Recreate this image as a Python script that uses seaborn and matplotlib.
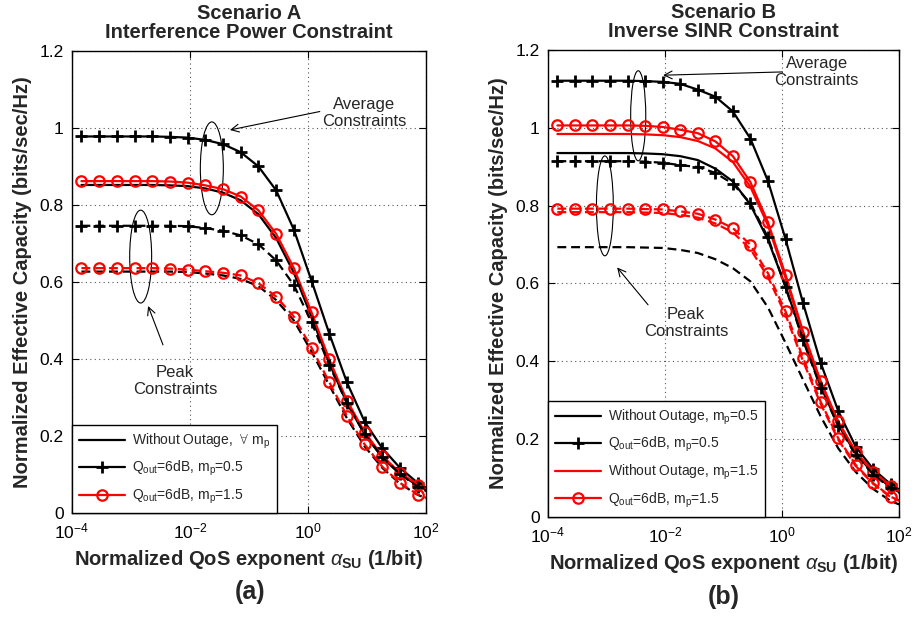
import numpy as np
import pandas as pd
import matplotlib
matplotlib.use('Agg')
import matplotlib.pyplot as plt
import seaborn as sns
from matplotlib.patches import Ellipse
from matplotlib.lines import Line2D

# ---------------- data ----------------
log_alpha = [-3.84, -3.54, -3.24, -2.94, -2.64, -2.34, -2.04, -1.74, -1.44, -1.14,
             -0.84, -0.54, -0.24, 0.06, 0.36, 0.66, 0.96, 1.26, 1.56, 1.86, 2.16]

# Scenario A (interference power constraint)
A_avg_q05 = [0.978, 0.978, 0.978, 0.978, 0.978, 0.977, 0.975, 0.969, 0.958, 0.937,
             0.900, 0.838, 0.736, 0.603, 0.466, 0.339, 0.237, 0.168, 0.117, 0.078, 0.052]
A_avg_q15 = [0.862, 0.862, 0.862, 0.862, 0.862, 0.861, 0.858, 0.851, 0.841, 0.822,
             0.786, 0.725, 0.636, 0.521, 0.399, 0.292, 0.210, 0.148, 0.104, 0.074, 0.050]
A_avg_wo = [0.852, 0.852, 0.852, 0.852, 0.852, 0.851, 0.849, 0.843, 0.832, 0.812,
            0.776, 0.714, 0.624, 0.509, 0.389, 0.285, 0.204, 0.144, 0.101, 0.071, 0.048]
A_peak_q05 = [0.746, 0.746, 0.746, 0.746, 0.746, 0.746, 0.745, 0.740, 0.733, 0.721,
              0.698, 0.656, 0.592, 0.495, 0.384, 0.285, 0.205, 0.145, 0.101, 0.068, 0.045]
A_peak_q15 = [0.636, 0.636, 0.636, 0.636, 0.636, 0.635, 0.632, 0.628, 0.624, 0.617,
              0.597, 0.562, 0.510, 0.429, 0.340, 0.252, 0.178, 0.120, 0.078, 0.048, 0.030]
A_peak_wo = [0.627, 0.627, 0.627, 0.627, 0.627, 0.627, 0.626, 0.622, 0.617, 0.608,
             0.589, 0.553, 0.500, 0.419, 0.332, 0.246, 0.173, 0.117, 0.076, 0.047, 0.029]

# Scenario B (inverse SINR constraint)
B_avg_q05 = [1.121, 1.121, 1.121, 1.121, 1.121, 1.120, 1.118, 1.113, 1.098, 1.080,
             1.042, 0.972, 0.863, 0.714, 0.549, 0.396, 0.272, 0.180, 0.122, 0.083, 0.055]
B_avg_q15 = [1.006, 1.006, 1.006, 1.006, 1.006, 1.005, 1.002, 0.995, 0.986, 0.965,
             0.927, 0.860, 0.757, 0.622, 0.476, 0.349, 0.245, 0.167, 0.116, 0.079, 0.053]
B_avg_wo15 = [0.984, 0.984, 0.984, 0.984, 0.984, 0.983, 0.981, 0.976, 0.966, 0.947,
              0.912, 0.848, 0.749, 0.614, 0.470, 0.344, 0.242, 0.165, 0.114, 0.078, 0.052]
B_avg_wo05 = [0.935, 0.935, 0.935, 0.935, 0.935, 0.934, 0.932, 0.927, 0.917, 0.895,
              0.862, 0.802, 0.712, 0.592, 0.457, 0.335, 0.236, 0.162, 0.111, 0.075, 0.050]
B_peak_q05 = [0.914, 0.914, 0.914, 0.914, 0.914, 0.913, 0.910, 0.904, 0.899, 0.884,
              0.856, 0.806, 0.718, 0.590, 0.453, 0.332, 0.233, 0.159, 0.108, 0.073, 0.048]
B_peak_q15 = [0.792, 0.792, 0.792, 0.792, 0.792, 0.791, 0.790, 0.785, 0.779, 0.764,
              0.742, 0.699, 0.626, 0.528, 0.408, 0.296, 0.202, 0.133, 0.086, 0.051, 0.032]
B_peak_wo15 = [0.783, 0.783, 0.783, 0.783, 0.783, 0.782, 0.781, 0.776, 0.769, 0.754,
               0.731, 0.688, 0.616, 0.519, 0.400, 0.290, 0.198, 0.130, 0.084, 0.050, 0.031]
B_peak_wo05 = [0.693, 0.693, 0.693, 0.693, 0.693, 0.692, 0.691, 0.686, 0.678, 0.662,
               0.639, 0.605, 0.538, 0.447, 0.352, 0.258, 0.176, 0.115, 0.071, 0.040, 0.022]

xtick_vals = [1e-4, 1e-2, 1e0, 1e2]
xtick_labels = ['$10^{-4}$', '$10^{-2}$', '$10^{0}$', '$10^{2}$']
ytick_vals = [0, 0.2, 0.4, 0.6, 0.8, 1.0, 1.2]
ytick_labels = ['0', '0.2', '0.4', '0.6', '0.8', '1', '1.2']

legend_A = [r'Without Outage,  $\forall$ m$_{\mathrm{p}}$',
            r'Q$_{\mathrm{out}}$=6dB, m$_{\mathrm{p}}$=0.5',
            r'Q$_{\mathrm{out}}$=6dB, m$_{\mathrm{p}}$=1.5']
legend_B = [r'Without Outage, m$_{\mathrm{p}}$=0.5',
            r'Q$_{\mathrm{out}}$=6dB, m$_{\mathrm{p}}$=0.5',
            r'Without Outage, m$_{\mathrm{p}}$=1.5',
            r'Q$_{\mathrm{out}}$=6dB, m$_{\mathrm{p}}$=1.5']

alpha = 10.0 ** np.array(log_alpha)

# ---------------- style ----------------
sns.set_style('ticks')
plt.rcParams['font.family'] = ['Liberation Sans', 'DejaVu Sans']
plt.rcParams['mathtext.fontset'] = 'custom'
plt.rcParams['mathtext.rm'] = 'Liberation Sans'
plt.rcParams['mathtext.it'] = 'Liberation Sans:italic'
plt.rcParams['mathtext.bf'] = 'Liberation Sans:bold'
plt.rcParams['mathtext.sf'] = 'Liberation Sans'

LW = 1.6
DASH = (0, (4.0, 2.2))
RED = '#ff0000'
LABEL_FS = 14.5
TICK_FS = 12.5

fig = plt.figure(figsize=(9.17, 6.21), dpi=100)
axA = fig.add_axes([0.0785, 0.1739, 0.3861, 0.744])
axB = fig.add_axes([0.5976, 0.168, 0.3828, 0.7515])


def draw(ax, y, color, ls, marker=None):
    kw = dict(color=color, linewidth=LW, linestyle=ls)
    if marker == '+':
        kw.update(marker='+', markersize=8, markeredgewidth=2.0,
                  markeredgecolor=color)
    elif marker == 'o':
        kw.update(marker='o', markersize=7.5, markeredgewidth=1.6,
                  markerfacecolor='none', markeredgecolor=color)
    df = pd.DataFrame({'alpha': alpha, 'cap': y})
    sns.lineplot(data=df, x='alpha', y='cap', ax=ax, legend=False,
                 estimator=None, sort=False, **kw)


# Scenario A curves
draw(axA, A_avg_wo, 'k', '-')
draw(axA, A_avg_q05, 'k', '-', '+')
draw(axA, A_avg_q15, RED, '-', 'o')
draw(axA, A_peak_wo, 'k', DASH)
draw(axA, A_peak_q05, 'k', DASH, '+')
draw(axA, A_peak_q15, RED, DASH, 'o')

# Scenario B curves
draw(axB, B_avg_wo05, 'k', '-')
draw(axB, B_avg_q05, 'k', '-', '+')
draw(axB, B_avg_wo15, RED, '-')
draw(axB, B_avg_q15, RED, '-', 'o')
draw(axB, B_peak_wo05, 'k', DASH)
draw(axB, B_peak_q05, 'k', DASH, '+')
draw(axB, B_peak_wo15, RED, DASH)
draw(axB, B_peak_q15, RED, DASH, 'o')

for ax in (axA, axB):
    ax.set_xscale('log')
    ax.set_xlim(1e-4, 1e2)
    ax.set_ylim(0, 1.2)
    ax.set_xticks(xtick_vals)
    ax.set_xticklabels(xtick_labels)
    ax.set_yticks(ytick_vals)
    ax.set_yticklabels(ytick_labels)
    ax.xaxis.set_minor_locator(matplotlib.ticker.NullLocator())
    ax.tick_params(which='major', direction='in', length=5, width=0.8,
                   top=True, right=True, labelsize=TICK_FS, pad=6, colors='k')
    ax.grid(True, which='major', color='#555555', linestyle=(0, (1, 3)),
            linewidth=0.8)
    for s in ax.spines.values():
        s.set_visible(True)
        s.set_color('k')
        s.set_linewidth(1.0)
    ax.set_xlabel(r'Normalized QoS exponent $\alpha_{\mathbf{SU}}$ (1/bit)',
                  fontsize=LABEL_FS, fontweight='bold', labelpad=5)
    ax.set_ylabel('Normalized Effective Capacity (bits/sec/Hz)',
                  fontsize=LABEL_FS, fontweight='bold', labelpad=5)

axA.set_title('Scenario A\nInterference Power Constraint', fontsize=14.5,
              fontweight='bold', pad=9, linespacing=1.05)
axB.set_title('Scenario B\nInverse SINR Constraint', fontsize=14.5,
              fontweight='bold', pad=9, linespacing=1.05)

# legends
hA = [Line2D([], [], color='k', lw=LW),
      Line2D([], [], color='k', lw=LW, marker='+', ms=8, mew=2),
      Line2D([], [], color=RED, lw=LW, marker='o', ms=7.5, mew=1.6, mfc='none')]
legA = axA.legend(hA, legend_A, loc='lower left', borderaxespad=0,
                  frameon=True, fancybox=False, edgecolor='k', framealpha=1,
                  fontsize=10, handlelength=3.3, labelspacing=0.6,
                  borderpad=0.5, handletextpad=0.5)
legA.get_frame().set_linewidth(1.0)

hB = [Line2D([], [], color='k', lw=LW),
      Line2D([], [], color='k', lw=LW, marker='+', ms=8, mew=2),
      Line2D([], [], color=RED, lw=LW),
      Line2D([], [], color=RED, lw=LW, marker='o', ms=7.5, mew=1.6, mfc='none')]
legB = axB.legend(hB, legend_B, loc='lower left', borderaxespad=0,
                  frameon=True, fancybox=False, edgecolor='k', framealpha=1,
                  fontsize=10, handlelength=3.3, labelspacing=0.6,
                  borderpad=0.5, handletextpad=0.5)
legB.get_frame().set_linewidth(1.0)

# annotations: ellipses, arrows and text
arrow = dict(arrowstyle='->', color='k', lw=0.8, shrinkA=0, shrinkB=0,
             mutation_scale=14)
ann_fs = 12

axA.add_patch(Ellipse((0.395, 0.746), 0.065, 0.201, transform=axA.transAxes,
                      fill=False, edgecolor='k', lw=0.8))
axA.add_patch(Ellipse((0.194, 0.555), 0.062, 0.201, transform=axA.transAxes,
                      fill=False, edgecolor='k', lw=0.8))
axA.annotate('', xy=(0.446, 0.829), xytext=(0.700, 0.869),
             xycoords='axes fraction', arrowprops=arrow)
axA.text(0.825, 0.866, 'Average\nConstraints', transform=axA.transAxes,
         ha='center', va='center', fontsize=ann_fs, linespacing=1.15)
axA.annotate('', xy=(0.215, 0.448), xytext=(0.257, 0.364),
             xycoords='axes fraction', arrowprops=arrow)
axA.text(0.291, 0.286, 'Peak\nConstraints', transform=axA.transAxes,
         ha='center', va='center', fontsize=ann_fs, linespacing=1.15)

axB.add_patch(Ellipse((0.257, 0.859), 0.043, 0.193, transform=axB.transAxes,
                      fill=False, edgecolor='k', lw=0.8))
axB.add_patch(Ellipse((0.162, 0.666), 0.048, 0.214, transform=axB.transAxes,
                      fill=False, edgecolor='k', lw=0.8))
axB.annotate('', xy=(0.328, 0.946), xytext=(0.668, 0.953),
             xycoords='axes fraction', arrowprops=arrow)
axB.text(0.765, 0.953, 'Average\nConstraints', transform=axB.transAxes,
         ha='center', va='center', fontsize=ann_fs, linespacing=1.15)
axB.annotate('', xy=(0.197, 0.534), xytext=(0.285, 0.454),
             xycoords='axes fraction', arrowprops=arrow)
axB.text(0.393, 0.415, 'Peak\nConstraints', transform=axB.transAxes,
         ha='center', va='center', fontsize=ann_fs, linespacing=1.15)

fig.text(0.2725, 1 - 592 / 621, '(a)', ha='center', va='center',
         fontsize=18, fontweight='bold')
fig.text(0.789, 1 - 597 / 621, '(b)', ha='center', va='center',
         fontsize=18, fontweight='bold')

fig.savefig('out.png', dpi=100)
